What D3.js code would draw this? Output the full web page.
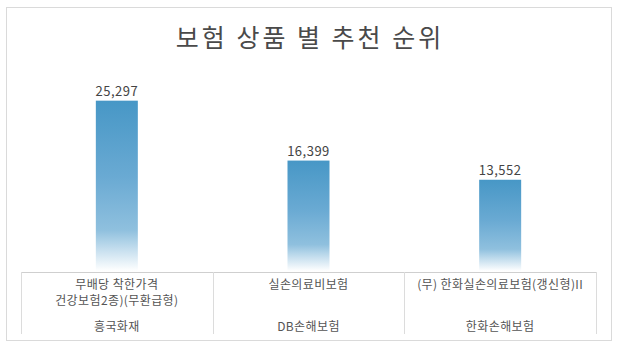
<!DOCTYPE html>
<html>
<head>
<meta charset="utf-8">
<script src="https://cdn.jsdelivr.net/npm/d3@7"></script>
<style>
  body { margin: 0; background: #fff; }
  text { font-family: "Noto Sans CJK KR", "Noto Sans", sans-serif; }
</style>
</head>
<body>
<svg id="chart" width="620" height="351"></svg>
<script>
let WIDTH = 620
let HEIGHT = 351

// data
let products = [
    ["무배당 착한가격", "건강보험2종)(무환급형)"],
    ["실손의료비보험"],
    ["(무) 한화실손의료보험(갱신형)II"]
];
let companies = ["흥국화재", "DB손해보험", "한화손해보험"];
let counts = [25297, 16399, 13552];
let title = "보험 상품 별 추천 순위";

let svg = d3.select('#chart');

// outer frame
svg.append('rect')
    .attr('x', 6.5).attr('y', 7.5)
    .attr('width', 605).attr('height', 333)
    .attr('fill', '#fff')
    .attr('stroke', '#dadada');

svg.append('text')
    .attr('x', WIDTH / 2)
    .attr('y', 47)
    .attr('text-anchor', 'middle')
    .attr('font-size', 25)
    .attr('letter-spacing', 3)
    .attr('fill', '#4a4a4a')
    .text(title);

let xScale = d3.scaleBand()
    .domain(companies)
    .range([21, 596]);

let yScale = d3.scaleLinear()
    .domain([0, 30000])
    .range([271, 69]);

// bar gradient, fades out at bottom
let grad = svg.append('defs').append('linearGradient')
    .attr('id', 'barGrad')
    .attr('x1', 0).attr('y1', 0).attr('x2', 0).attr('y2', 1);
grad.append('stop').attr('offset', '0%').attr('stop-color', '#4797c6');
grad.append('stop').attr('offset', '45%').attr('stop-color', '#6aaad3');
grad.append('stop').attr('offset', '76%').attr('stop-color', '#8fc0de');
grad.append('stop').attr('offset', '88%').attr('stop-color', '#c8e0ef');
grad.append('stop').attr('offset', '100%').attr('stop-color', '#ffffff');

let BAR_W = 42;

svg.append('g')
    .selectAll('rect')
    .data(counts)
    .join('rect')
    .attr('x', (d, i) => xScale(companies[i]) + xScale.bandwidth() / 2 - BAR_W / 2)
    .attr('y', d => yScale(d))
    .attr('width', BAR_W)
    .attr('height', d => yScale(0) - yScale(d))
    .attr('fill', 'url(#barGrad)');

svg.append('g')
    .selectAll('text')
    .data(counts)
    .join('text')
    .attr('x', (d, i) => xScale(companies[i]) + xScale.bandwidth() / 2)
    .attr('y', d => yScale(d) - 5)
    .attr('text-anchor', 'middle')
    .attr('font-size', 13)
    .attr('letter-spacing', 0.5)
    .attr('fill', '#444')
    .text(d => d3.format(',')(d));

// category table under the bars
let table = svg.append('g');
table.append('line')
    .attr('x1', xScale.range()[0]).attr('x2', xScale.range()[1])
    .attr('y1', 272.5).attr('y2', 272.5)
    .attr('stroke', '#cfcfcf');

let edges = companies.map(c => xScale(c)).concat([xScale.range()[1]]);
table.selectAll('line.div')
    .data(edges)
    .join('line')
    .attr('class', 'div')
    .attr('x1', d => Math.round(d) + 0.5).attr('x2', d => Math.round(d) + 0.5)
    .attr('y1', 272).attr('y2', 334)
    .attr('stroke', '#dcdcdc');

companies.forEach((c, i) => {
    let cx = xScale(c) + xScale.bandwidth() / 2;
    products[i].forEach((line, j) => {
        table.append('text')
            .attr('x', cx)
            .attr('y', 289 + j * 16)
            .attr('text-anchor', 'middle')
            .attr('font-size', 12)
            .attr('letter-spacing', 0.4)
            .attr('fill', '#555')
            .text(line);
    });
    table.append('text')
        .attr('x', cx)
        .attr('y', 331)
        .attr('text-anchor', 'middle')
        .attr('font-size', 12)
        .attr('letter-spacing', 0.4)
        .attr('fill', '#555')
        .text(c);
});
</script>
</body>
</html>
